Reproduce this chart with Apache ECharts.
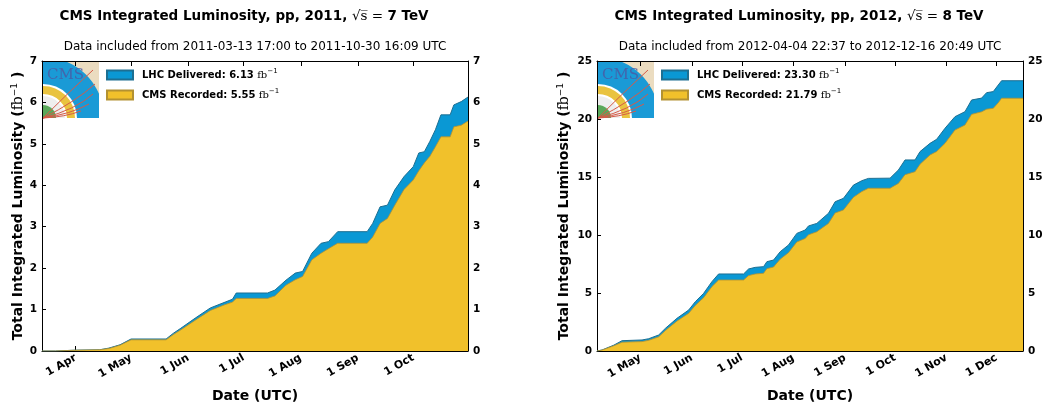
<!DOCTYPE html>
<html>
<head>
<meta charset="utf-8">
<script src="https://cdn.jsdelivr.net/npm/echarts@6/dist/echarts.min.js"></script>
<style>
  html, body { margin: 0; padding: 0; background: #fff; }
  #chart { width: 1048px; height: 404px; }
</style>
</head>
<body>
<div id="chart"></div>
<script>
const monthNames = ["Jan", "Feb", "Mar", "Apr", "May", "Jun", "Jul", "Aug", "Sep", "Oct", "Nov", "Dec"];

// 2011 run
const dates2011 = ["2011-03-13 17:00", "2011-03-21", "2011-04-01", "2011-04-14", "2011-04-19", "2011-04-25", "2011-05-01", "2011-05-20", "2011-05-24", "2011-05-28",
  "2011-06-05", "2011-06-13", "2011-06-21", "2011-06-25", "2011-06-27", "2011-07-14", "2011-07-18", "2011-07-24", "2011-07-29", "2011-08-02",
  "2011-08-07", "2011-08-12", "2011-08-16", "2011-08-21", "2011-09-06", "2011-09-09", "2011-09-13", "2011-09-17", "2011-09-21", "2011-09-26",
  "2011-10-01", "2011-10-04", "2011-10-07", "2011-10-10", "2011-10-13", "2011-10-16", "2011-10-21", "2011-10-23", "2011-10-27", "2011-10-30 16:09"];
const delivered2011 = [0, 0, 0.02, 0.03, 0.07, 0.15, 0.29, 0.29, 0.43, 0.55,
  0.80, 1.04, 1.18, 1.25, 1.40, 1.40, 1.47, 1.71, 1.88, 1.92,
  2.36, 2.60, 2.64, 2.88, 2.88, 3.08, 3.48, 3.52, 3.89, 4.21,
  4.45, 4.78, 4.81, 5.06, 5.34, 5.70, 5.70, 5.94, 6.02, 6.13];
const recorded2011 = [0, 0, 0.02, 0.03, 0.06, 0.14, 0.27, 0.27, 0.40, 0.51,
  0.75, 0.98, 1.12, 1.18, 1.27, 1.27, 1.33, 1.59, 1.72, 1.80,
  2.20, 2.36, 2.47, 2.60, 2.60, 2.75, 3.08, 3.20, 3.52, 3.90,
  4.13, 4.35, 4.54, 4.70, 4.93, 5.17, 5.17, 5.41, 5.45, 5.55];
const months2011 = ["2011-04-01", "2011-05-01", "2011-06-01", "2011-07-01", "2011-08-01", "2011-09-01", "2011-10-01"];

// 2012 run
const dates2012 = ["2012-04-04 22:37", "2012-04-08", "2012-04-15", "2012-04-20", "2012-05-02", "2012-05-06", "2012-05-12", "2012-05-16", "2012-05-23", "2012-05-30",
  "2012-06-03", "2012-06-08", "2012-06-13", "2012-06-17", "2012-07-02", "2012-07-05", "2012-07-09", "2012-07-14", "2012-07-16", "2012-07-20",
  "2012-07-24", "2012-07-29", "2012-08-03", "2012-08-08", "2012-08-10", "2012-08-15", "2012-08-22", "2012-08-26", "2012-08-31", "2012-09-06",
  "2012-09-11", "2012-09-15", "2012-09-28", "2012-10-03", "2012-10-07", "2012-10-13", "2012-10-16", "2012-10-22", "2012-10-26", "2012-10-31",
  "2012-11-06", "2012-11-12", "2012-11-16", "2012-11-22", "2012-11-25", "2012-11-29", "2012-12-02", "2012-12-04", "2012-12-16 20:49"];
const delivered2012 = [0, 0.09, 0.50, 0.89, 0.95, 1.06, 1.38, 1.95, 2.82, 3.53,
  4.25, 4.97, 5.98, 6.64, 6.64, 7.07, 7.21, 7.27, 7.70, 7.84,
  8.56, 9.14, 10.14, 10.43, 10.78, 11.00, 11.87, 12.87, 13.16, 14.30,
  14.68, 14.88, 14.90, 15.60, 16.47, 16.47, 17.19, 17.90, 18.25, 19.20,
  20.20, 20.63, 21.64, 21.80, 22.27, 22.36, 22.93, 23.30, 23.30];
const recorded2012 = [0, 0.08, 0.45, 0.76, 0.81, 0.92, 1.22, 1.76, 2.58, 3.25,
  3.93, 4.60, 5.55, 6.12, 6.12, 6.50, 6.64, 6.70, 7.10, 7.24,
  7.92, 8.48, 9.40, 9.70, 10.02, 10.28, 11.00, 11.90, 12.16, 13.25,
  13.74, 14.03, 14.03, 14.45, 15.20, 15.46, 16.10, 16.90, 17.20, 17.90,
  19.05, 19.48, 20.40, 20.62, 20.85, 20.92, 21.40, 21.79, 21.79];
const months2012 = ["2012-05-01", "2012-06-01", "2012-07-01", "2012-08-01", "2012-09-01", "2012-10-01", "2012-11-01", "2012-12-01"];

const toMs = (s) => {
  const [d, t] = s.split(" ");
  const [y, m, dd] = d.split("-").map(Number);
  let h = 0, mi = 0;
  if (t) [h, mi] = t.split(":").map(Number);
  return Date.UTC(y, m - 1, dd, h, mi);
};

const blue = "#0a98d4";
const yellow = "#f1c12b";
const font = "DejaVu Sans";
const plots = [
  { left: 42, width: 426, ymax: 7, step: 1, dates: dates2011, del: delivered2011, rec: recorded2011, months: months2011,
    delName: "LHC Delivered: 6.13", recName: "CMS Recorded: 5.55", year: "2011", energy: "7", nameGap: 15,
    sub: "Data included from 2011-03-13 17:00 to 2011-10-30 16:09 UTC" },
  { left: 597, width: 426, ymax: 25, step: 5, dates: dates2012, del: delivered2012, rec: recorded2012, months: months2012,
    delName: "LHC Delivered: 23.30", recName: "CMS Recorded: 21.79", year: "2012", energy: "8", nameGap: 24,
    sub: "Data included from 2012-04-04 22:37 to 2012-12-16 20:49 UTC" },
];
const gridTop = 61, gridHeight = 290;

const chartInstance = echarts.init(document.getElementById("chart"));

const labelRich = {
  b: { fontFamily: font, fontWeight: "bold", fontSize: 10, color: "#000", lineHeight: 14, padding: [0, 0, 0, 4] },
  fb: { fontFamily: "DejaVu Serif", fontSize: 10, color: "#000", lineHeight: 14 },
  sup: { fontFamily: "DejaVu Sans", fontSize: 7, color: "#000", verticalAlign: "top", lineHeight: 10 },
};
const nameRich = {
  b: { fontFamily: font, fontWeight: "bold", fontSize: 14, color: "#000" },
  fb: { fontFamily: "DejaVu Serif", fontSize: 14, color: "#000" },
  sup: { fontFamily: "DejaVu Sans", fontSize: 9, color: "#000", verticalAlign: "top", padding: [0, 0, 8, 0] },
};

const grid = [], xAxis = [], yAxis = [], series = [], legend = [], graphic = [];

plots.forEach((p, i) => {
  const xmin = toMs(p.dates[0]);
  const xmax = toMs(p.dates[p.dates.length - 1]);
  const ticks = p.months.map(toMs);
  grid.push({ left: p.left, top: gridTop, width: p.width, height: gridHeight, outerBoundsMode: "none" });

  const xBase = {
    type: "value", gridIndex: i, min: xmin, max: xmax,
    axisLine: { show: true, onZero: false, lineStyle: { color: "#000", width: 1 } },
    axisTick: { show: true, inside: true, length: 5, customValues: ticks, lineStyle: { color: "#000" } },
    splitLine: { show: false },
  };
  xAxis.push(Object.assign({}, xBase, {
    position: "bottom",
    axisLabel: {
      customValues: ticks, rotate: 30, margin: 6, color: "#000", fontFamily: font, fontWeight: "bold", fontSize: 11,
      formatter: (v) => { const d = new Date(v); return d.getUTCDate() + " " + monthNames[d.getUTCMonth()]; },
    },
    name: "Date (UTC)", nameLocation: "middle", nameGap: 38,
    nameTextStyle: { fontFamily: font, fontWeight: "bold", fontSize: 14, color: "#000" },
  }));
  xAxis.push(Object.assign({}, xBase, { position: "top", axisLabel: { show: false } }));

  const yBase = {
    type: "value", gridIndex: i, min: 0, max: p.ymax, interval: p.step,
    axisLine: { show: true, onZero: false, lineStyle: { color: "#000", width: 1 } },
    axisTick: { show: true, inside: true, length: 4, lineStyle: { color: "#000" } },
    axisLabel: { margin: 5, color: "#000", fontFamily: font, fontWeight: "bold", fontSize: 10.5 },
    splitLine: { show: false },
  };
  yAxis.push(Object.assign({}, yBase, {
    position: "left",
    name: "{b|Total Integrated Luminosity (}{fb|fb}{sup|−1}{b| )}",
    nameLocation: "middle", nameGap: p.nameGap,
    nameTextStyle: { rich: nameRich },
  }));
  yAxis.push(Object.assign({}, yBase, { position: "right" }));

  series.push({
    name: p.delName, type: "line", xAxisIndex: i * 2, yAxisIndex: i * 2,
    data: p.dates.map((d, k) => [toMs(d), p.del[k]]),
    symbol: "none", smooth: false,
    lineStyle: { color: "#1d6f92", width: 1 },
    itemStyle: { color: blue, borderColor: "#1d6f92", borderWidth: 1 },
    areaStyle: { color: blue, opacity: 1, origin: "start" },
    z: 2,
  });
  series.push({
    name: p.recName, type: "line", xAxisIndex: i * 2, yAxisIndex: i * 2,
    data: p.dates.map((d, k) => [toMs(d), p.rec[k]]),
    symbol: "none", smooth: false,
    lineStyle: { color: "#b39232", width: 0.8 },
    itemStyle: { color: yellow, borderColor: "#b39232", borderWidth: 1 },
    areaStyle: { color: yellow, opacity: 1, origin: "start" },
    z: 3,
  });

  legend.push({
    left: p.left + 59, top: 63, orient: "vertical", itemWidth: 26, itemHeight: 9, itemGap: 7,
    icon: "rect", data: [p.delName, p.recName],
    formatter: (name) => "{b|" + name + "} {fb|fb}{sup|−1}",
    textStyle: { rich: labelRich },
  });

  // titles
  const cx = p.left + p.width / 2;
  graphic.push({
    type: "text", x: cx - 11, y: 16,
    style: {
      text: "{b|CMS Integrated Luminosity, pp, " + p.year + ", }{m|√s̅ = }{b|" + p.energy + " TeV}",
      align: "center", verticalAlign: "middle",
      rich: {
        b: { fontFamily: font, fontWeight: "bold", fontSize: 13.5, fill: "#000" },
        m: { fontFamily: "DejaVu Serif", fontSize: 13.5, fill: "#000" },
      },
    },
  });
  graphic.push({
    type: "text", x: cx, y: 47,
    style: { text: p.sub, align: "center", verticalAlign: "middle", fontFamily: font, fontSize: 12, fill: "#000" },
  });

  // CMS logo (decoration)
  const lx = p.left + 1, ly = 62, ls = 56, ox = lx, oy = ly + ls;
  const r = 61, pts = [[ox, oy], [ox, ly]];
  const a1 = Math.asin(ls / r), a2 = Math.acos(ls / r);
  for (let k = 0; k <= 20; k++) {
    const a = a1 + (a2 - a1) * k / 20;
    pts.push([ox + r * Math.cos(a), oy - r * Math.sin(a)]);
  }
  pts.push([lx + ls, oy]);
  const logo = [
    { type: "rect", shape: { x: lx, y: ly, width: ls, height: ls }, style: { fill: "#ebdcc0" } },
    { type: "polygon", shape: { points: pts }, style: { fill: "#1a9ad6" } },
    { type: "sector", shape: { cx: ox, cy: oy, r0: 0, r: 34, startAngle: -Math.PI / 2, endAngle: 0, clockwise: true }, style: { fill: "#ffffff" } },
    { type: "sector", shape: { cx: ox, cy: oy, r0: 24, r: 32, startAngle: -Math.PI / 2, endAngle: 0, clockwise: true }, style: { fill: "#e9c33f" } },
    { type: "sector", shape: { cx: ox, cy: oy, r0: 13, r: 22, startAngle: -Math.PI / 2, endAngle: 0, clockwise: true }, style: { fill: "#eeeeee" } },
    { type: "sector", shape: { cx: ox, cy: oy, r0: 0, r: 13, startAngle: -Math.PI / 2, endAngle: 0, clockwise: true }, style: { fill: "#5aa85a" } },
  ];
  const ends = [[50, 8, 26, 30], [52, 22, 32, 40], [50, 32, 32, 48], [46, 42, 28, 52], [38, 49, 22, 55]];
  ends.forEach((e) => {
    logo.push({
      type: "bezierCurve",
      shape: { x1: ox, y1: oy, x2: lx + e[0], y2: ly + e[1], cpx1: lx + e[2], cpy1: ly + e[3] },
      style: { stroke: "#d65a48", lineWidth: 1, fill: null },
    });
  });
  logo.push({
    type: "text", x: lx + 4, y: ly + 6,
    style: { text: "CMS", fontFamily: "DejaVu Serif", fontSize: 15, fill: "#4b5aa3", opacity: 0.85 },
  });
  graphic.push({ type: "group", z: 100, children: logo });
});

chartInstance.setOption({
  backgroundColor: "#fff",
  animation: false,
  grid: grid,
  xAxis: xAxis,
  yAxis: yAxis,
  legend: legend,
  series: series,
  graphic: graphic,
});
</script>
</body>
</html>
